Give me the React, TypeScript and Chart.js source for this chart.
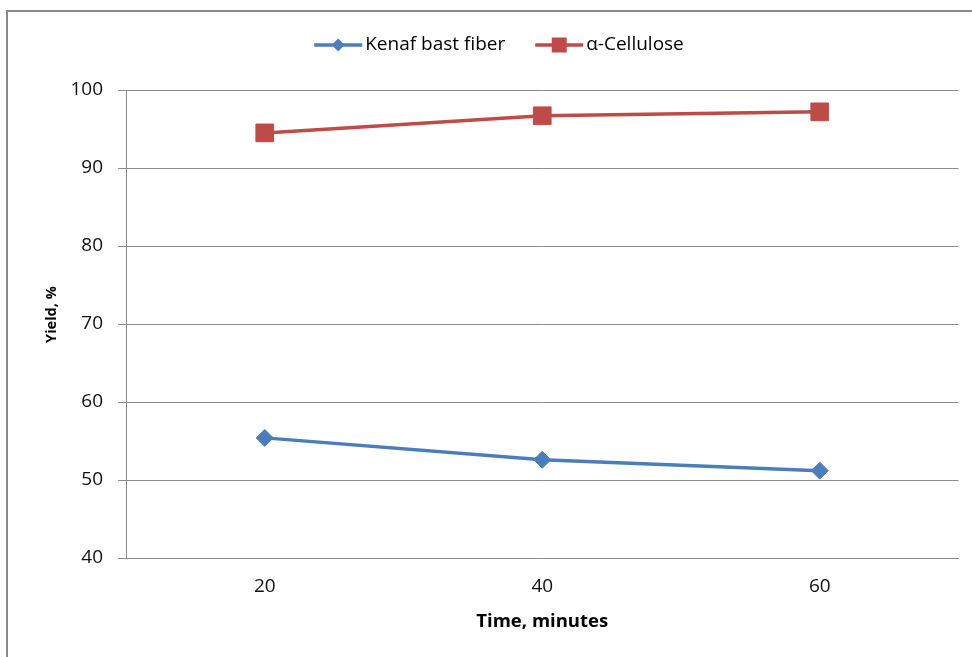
import React, { useEffect, useRef } from "react";
import { Chart, registerables } from "chart.js";

Chart.register(...registerables);

const timeLabels = ["20", "40", "60"];
const kenafYield = [55.4, 52.6, 51.2];
const celluloseYield = [94.5, 96.7, 97.2];
const seriesNames = ["Kenaf bast fiber", "\u03b1-Cellulose"];
const yTitle = "Yield, %";
const xTitle = "Time, minutes";

const BLUE = "#4a7ebb";
const RED = "#be4b48";
const GRID = "#8c8c8c";
const FONT = "'Open Sans'";

const framePlugin = {
  id: "frame",
  beforeDraw(chart: any) {
    const ctx = chart.ctx;
    ctx.save();
    ctx.fillStyle = "#ffffff";
    ctx.fillRect(0, 0, chart.width, chart.height);
    ctx.strokeStyle = "#8a8a8a";
    ctx.lineWidth = 2;
    ctx.strokeRect(7, 11, 2000, 2000);
    ctx.restore();
  },
};

const legendPlugin = {
  id: "customLegend",
  afterDraw(chart: any) {
    const ctx = chart.ctx;
    ctx.save();
    ctx.font = "19px " + FONT;
    ctx.textBaseline = "middle";
    ctx.textAlign = "left";
    const lineLen = 48;
    const gap = 3;
    const itemGap = 30;
    const colors = [BLUE, RED];
    const widths = seriesNames.map((n) => ctx.measureText(n).width);
    const total = widths.reduce((a, w) => a + lineLen + gap + w, 0) + itemGap;
    let x = 499 - total / 2;
    const y = 45;
    seriesNames.forEach((name, i) => {
      ctx.strokeStyle = colors[i];
      ctx.fillStyle = colors[i];
      ctx.lineWidth = 3.5;
      ctx.beginPath();
      ctx.moveTo(x, y);
      ctx.lineTo(x + lineLen, y);
      ctx.stroke();
      const cx = x + lineLen / 2;
      ctx.beginPath();
      if (i === 0) {
        const r = 6.5;
        ctx.moveTo(cx, y - r);
        ctx.lineTo(cx + r, y);
        ctx.lineTo(cx, y + r);
        ctx.lineTo(cx - r, y);
        ctx.closePath();
      } else {
        const s = 15;
        ctx.rect(cx - s / 2, y - s / 2, s, s);
      }
      ctx.fill();
      ctx.fillStyle = "#000";
      ctx.fillText(name, x + lineLen + gap, y);
      x += lineLen + gap + widths[i] + itemGap;
    });
    ctx.restore();
  },
};

export default function App() {
  const ref = useRef<HTMLCanvasElement | null>(null);
  useEffect(() => {
    if (!ref.current) return;
    const chart = new Chart(ref.current, {
      type: "line",
      data: {
        labels: timeLabels,
        datasets: [
          {
            label: seriesNames[0],
            data: kenafYield,
            borderColor: BLUE,
            backgroundColor: BLUE,
            borderWidth: 3.5,
            pointStyle: "rectRot",
            pointRadius: 8.5,
            pointBorderWidth: 1,
            pointBackgroundColor: BLUE,
            pointBorderColor: BLUE,
            tension: 0,
          },
          {
            label: seriesNames[1],
            data: celluloseYield,
            borderColor: RED,
            backgroundColor: RED,
            borderWidth: 3.5,
            pointStyle: "rect",
            pointRadius: 12.5,
            pointBorderWidth: 1,
            pointBackgroundColor: RED,
            pointBorderColor: RED,
            tension: 0,
          },
        ],
      },
      options: {
        responsive: false,
        animation: false,
        layout: { padding: { top: 90, left: 38, right: 12, bottom: 21 } },
        plugins: {
          legend: { display: false },
          tooltip: { enabled: false },
        },
        scales: {
          x: {
            offset: true,
            grid: { display: false, drawTicks: false },
            border: { display: true, color: GRID, width: 1 },
            ticks: {
              padding: 17,
              color: "#111",
              font: { family: FONT, size: 19 },
            },
            title: {
              display: true,
              text: xTitle,
              color: "#000",
              font: { family: FONT, size: 18.5, weight: "bold" },
              padding: { top: 4, bottom: 3 },
            },
            afterFit(scale: any) {
              scale.height = 78;
            },
          },
          y: {
            min: 40,
            max: 100,
            ticks: {
              stepSize: 10,
              padding: 15,
              color: "#111",
              font: { family: FONT, size: 19 },
            },
            grid: { color: GRID, lineWidth: 1, tickLength: 8, drawTicks: true },
            border: { display: true, color: GRID, width: 1 },
            title: {
              display: true,
              text: "     " + yTitle,
              color: "#000",
              font: { family: FONT, size: 14.5, weight: "bold" },
              padding: { top: 5, bottom: 4 },
            },
            afterFit(scale: any) {
              scale.width = 88;
            },
          },
        },
      },
      plugins: [framePlugin, legendPlugin],
    });
    return () => chart.destroy();
  }, []);
  return (
    <div style={{ position: "absolute", left: 0, top: 0, width: 972, height: 657 }}>
      <canvas ref={ref} width={972} height={657} style={{ display: "block" }} />
    </div>
  );
}
